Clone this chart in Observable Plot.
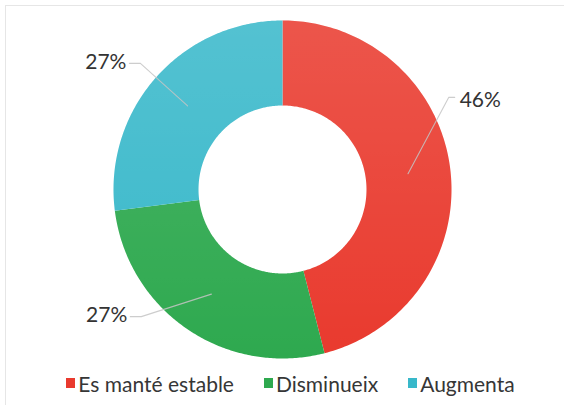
<!DOCTYPE html>
<html>
<head>
<meta charset="utf-8">
<script src="https://cdn.jsdelivr.net/npm/d3@7"></script>
<script src="https://cdn.jsdelivr.net/npm/@observablehq/plot@0.6"></script>
<style>
  html, body { margin: 0; padding: 0; background: #fff; }
  #wrap { position: relative; width: 564px; height: 406px; overflow: hidden; font-family: Lato, "Open Sans", sans-serif; }
  #frame { position: absolute; left: 5px; top: 5px; width: 560px; height: 400px; border-left: 1px solid #e6e6e6; border-top: 1px solid #e6e6e6; box-sizing: border-box; pointer-events: none; }
  #chart svg { display: block; }
  #legend { display: flex; justify-content: center; align-items: center; gap: 30px; height: 34px; margin-top: 0px; padding-left: 17px; font-size: 21px; color: #363636; }
  .item { display: flex; align-items: center; gap: 3px; }
  .sw { width: 9px; height: 10px; display: inline-block; }
</style>
</head>
<body>
<div id="wrap">
  <div id="frame"></div>
  <div id="chart"></div>
  <div id="legend"></div>
</div>
<script>
// ---- data ----
const categories = ["Es manté estable", "Disminueix", "Augmenta"];
const values = [46, 27, 27];
const colors = ["#e93a2e", "#2ea94f", "#38b8ca"];

// ---- layout ----
const W = 564, H = 366, CX = 282, CY = 189;
const R_OUT = 169, R_IN = 84, R_LBL = 190;
const labelAngleDeg = [61, 228, 311.6];

const total = d3.sum(values);
let acc = 0;
const slices = categories.map((cat, i) => {
  const a0 = acc / total * 2 * Math.PI;
  acc += values[i];
  const a1 = acc / total * 2 * Math.PI;
  return {cat, value: values[i], a0, a1, pct: Math.round(values[i] / total * 100) + "%"};
});

const pt = (r, a) => ({x: r * Math.sin(a), y: r * Math.cos(a)});

const poly = [];
for (const s of slices) {
  const n = 160;
  for (let k = 0; k <= n; k++) {
    const a = s.a0 + (s.a1 - s.a0) * k / n;
    poly.push({cat: s.cat, ...pt(R_OUT, a)});
  }
  for (let k = n; k >= 0; k--) {
    const a = s.a0 + (s.a1 - s.a0) * k / n;
    poly.push({cat: s.cat, ...pt(R_IN, a)});
  }
}

const leaders = [];
const labels = [];
slices.forEach((s, i) => {
  const mid = (s.a0 + s.a1) / 2;
  const la = labelAngleDeg[i] * Math.PI / 180;
  const p0 = pt((R_OUT + R_IN) / 2, mid);
  const p1 = pt(R_LBL, la);
  const right = Math.sin(la) > 0;
  const p2 = {x: p1.x + (right ? 6 : -11), y: p1.y};
  leaders.push({cat: s.cat, ...p0}, {cat: s.cat, ...p1}, {cat: s.cat, ...p2});
  labels.push({cat: s.cat, text: s.pct, x: p2.x + (right ? 5 : -3), y: p2.y - (right ? 3 : -1), right});
});

const plot = Plot.plot({
  width: W,
  height: H,
  margin: 0,
  x: {domain: [-CX, W - CX], axis: null},
  y: {domain: [CY - H, CY], axis: null},
  color: {domain: categories, range: colors},
  marks: [
    Plot.line(poly, {x: "x", y: "y", z: "cat", fill: "cat", stroke: "none"}),
    Plot.line(poly, {x: "x", y: "y", z: "cat", fill: "url(#shine)", stroke: "none"}),
    Plot.line(leaders, {x: "x", y: "y", z: "cat", stroke: "#c4c4c4", strokeWidth: 1.1, strokeOpacity: 0.85}),
    Plot.text(labels.filter(d => d.right), {x: "x", y: "y", text: "text", textAnchor: "start", fontSize: 21, fill: "#333", fontFamily: "Lato, sans-serif"}),
    Plot.text(labels.filter(d => !d.right), {x: "x", y: "y", text: "text", textAnchor: "end", fontSize: 21, fill: "#333", fontFamily: "Lato, sans-serif"})
  ]
});

const defs = d3.select(plot).insert("defs", ":first-child");
const g = defs.append("linearGradient").attr("id", "shine")
  .attr("gradientUnits", "userSpaceOnUse")
  .attr("x1", 0).attr("x2", 0).attr("y1", CY - R_OUT).attr("y2", CY + R_OUT);
g.append("stop").attr("offset", "0%").attr("stop-color", "#fff").attr("stop-opacity", 0.14);
g.append("stop").attr("offset", "100%").attr("stop-color", "#fff").attr("stop-opacity", 0);

document.getElementById("chart").append(plot);

const legend = d3.select("#legend");
categories.forEach((c, i) => {
  const it = legend.append("div").attr("class", "item");
  it.append("span").attr("class", "sw").style("background", colors[i]);
  it.append("span").text(c);
});
</script>
</body>
</html>
